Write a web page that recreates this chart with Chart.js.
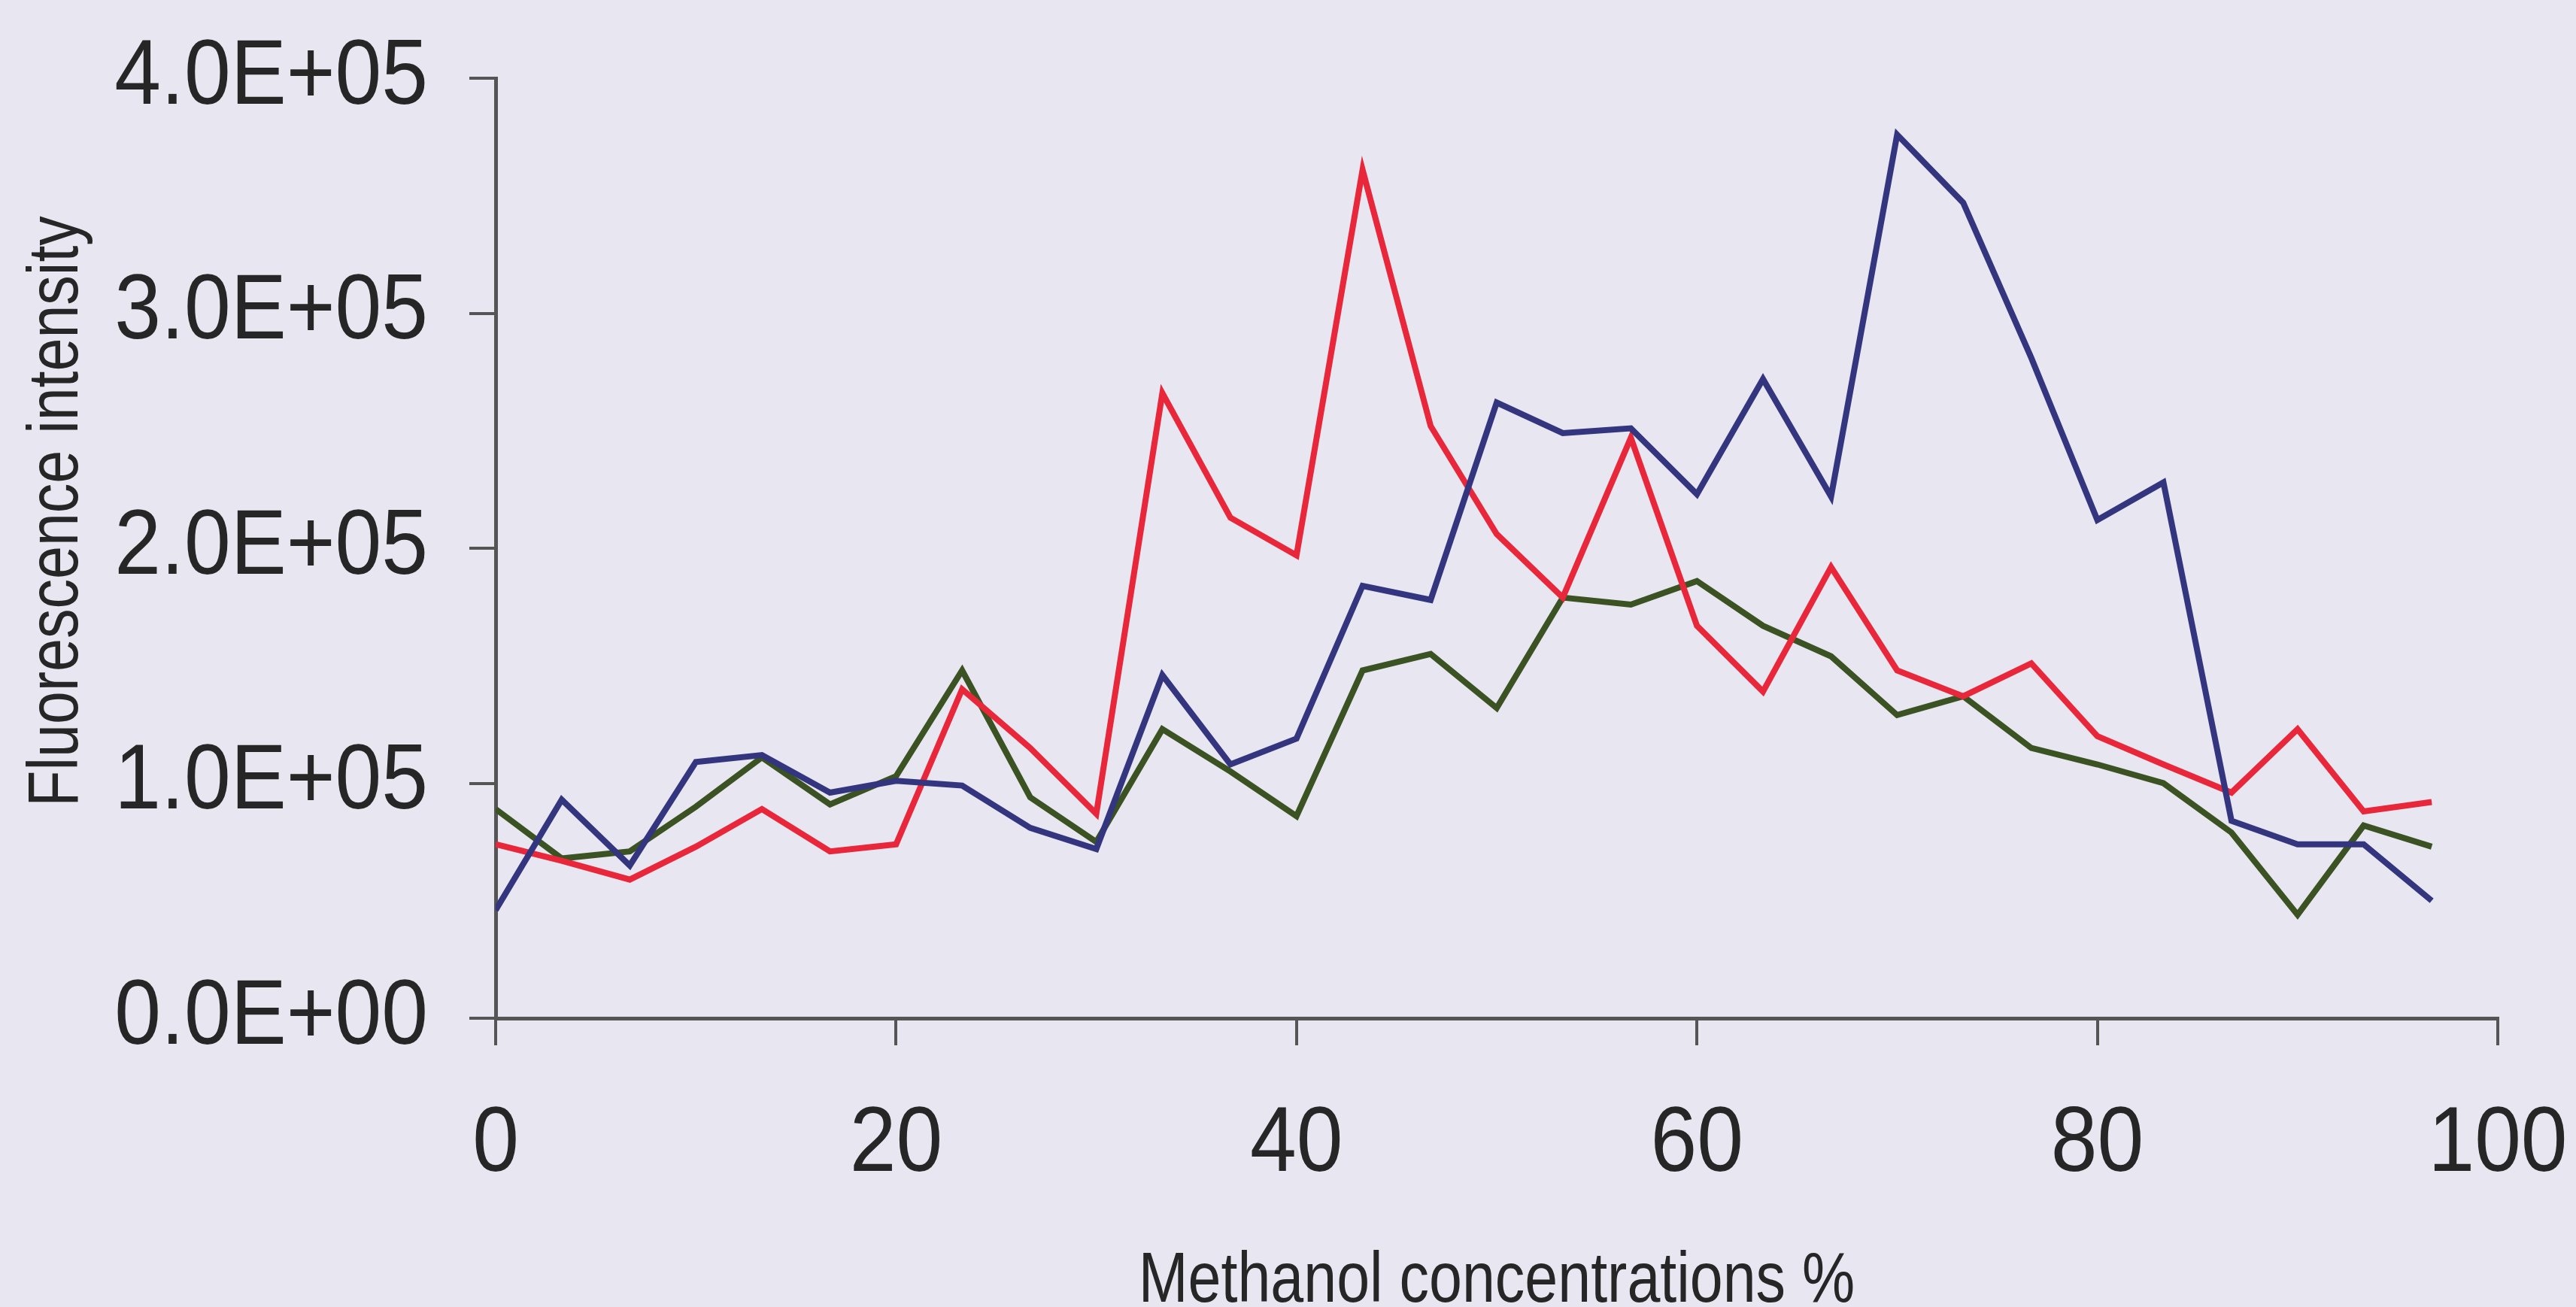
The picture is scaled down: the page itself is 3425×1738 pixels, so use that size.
<!DOCTYPE html>
<html>
<head>
<meta charset="utf-8">
<script src="https://cdn.jsdelivr.net/npm/chart.js"></script>
<style>
  html, body { margin: 0; padding: 0; background: #e8e6f1; }
  canvas { display: block; }
</style>
</head>
<body>
<canvas id="chart" width="3425" height="1738"></canvas>
<script>
// methanol concentration (%) of each fraction
const concentrations = [0, 3.3, 6.7, 10, 13.3, 16.7, 20, 23.3, 26.7, 30, 33.3, 36.7, 40, 43.3, 46.7,
	50, 53.3, 56.7, 60, 63.3, 66.7, 70, 73.3, 76.7, 80, 83.3, 86.7, 90, 93.3, 96.7];

// fluorescence intensity of the three runs
const blueRun = [46000, 93000, 65000, 109000, 112000, 96000, 101000, 99000, 81000, 72000,
	146000, 108000, 119000, 184000, 178000, 262000, 249000, 251000, 223000, 272000,
	222000, 376000, 347000, 281000, 212000, 228000, 84000, 74000, 74000, 50000];
const redRun = [74000, 67000, 59000, 73000, 89000, 71000, 74000, 140000, 115000, 87000,
	266000, 213000, 197000, 361000, 252000, 206000, 179000, 247000, 167000, 139000,
	192000, 148000, 137000, 151000, 120000, 108000, 96000, 123000, 88000, 92000];
const greenRun = [89000, 68000, 71000, 90000, 111000, 91000, 103000, 148000, 94000, 75000,
	123000, 105000, 86000, 148000, 155000, 132000, 179000, 176000, 186000, 167000,
	154000, 129000, 137000, 115000, 108000, 100000, 79000, 44000, 82000, 73000];

const yTicks = [0, 100000, 200000, 300000, 400000];
const xTicks = [0, 20, 40, 60, 80, 100];

const fontFamily = "'Liberation Sans', Arial, sans-serif";
const textColor = '#262626';
const axisColor = '#555555';

// 4.0E+05 style labels
function sci(v) {
	if (v === 0) return '0.0E+00';
	const e = Math.floor(Math.log10(v));
	const m = v / Math.pow(10, e);
	return m.toFixed(1) + 'E+' + String(e).padStart(2, '0');
}

function toPoints(values) {
	return values.map((v, i) => ({ x: concentrations[i], y: v }));
}

// the scan has tall, narrow lettering: squeeze text horizontally
// (tick numbers a little, the axis titles more)
const condensePlugin = {
	id: 'condense',
	beforeInit(chart) {
		const ctx = chart.ctx;
		const fill = ctx.fillText.bind(ctx);
		ctx.fillText = function (text, x, y, maxWidth) {
			const size = parseFloat((ctx.font.match(/([\d.]+)px/) || [0, 100])[1]);
			const squeeze = size > 110 ? 0.91 : 0.84;
			ctx.save();
			ctx.translate(x, y);
			ctx.scale(squeeze, 1);
			if (maxWidth === undefined) fill(text, 0, 0);
			else fill(text, 0, 0, maxWidth / squeeze);
			ctx.restore();
		};
	}
};

// y axis title, drawn a bit above the plot's middle like the original
const yTitlePlugin = {
	id: 'yTitle',
	afterDraw(chart) {
		const ctx = chart.ctx;
		ctx.save();
		ctx.translate(77, 680);
		ctx.rotate(-Math.PI / 2);
		ctx.font = '94px ' + fontFamily;
		ctx.fillStyle = textColor;
		ctx.textAlign = 'center';
		ctx.textBaseline = 'middle';
		ctx.fillText('Fluorescence intensity', 0, 0);
		ctx.restore();
	}
};

const chartCanvas = document.querySelector('#chart');

new Chart(chartCanvas, {
	type: 'line',
	data: {
		datasets: [
			{ label: 'Run 1', data: toPoints(blueRun), borderColor: '#34357f', borderWidth: 8 },
			{ label: 'Run 2', data: toPoints(redRun), borderColor: '#e8283a', borderWidth: 8 },
			{ label: 'Run 3', data: toPoints(greenRun), borderColor: '#3b5222', borderWidth: 8 }
		]
	},
	options: {
		responsive: false,
		animation: false,
		devicePixelRatio: 1,
		elements: {
			point: { radius: 0 },
			line: { tension: 0, borderJoinStyle: 'miter' }
		},
		layout: {
			padding: { top: 104, right: 104, left: 0, bottom: 0 }
		},
		plugins: {
			legend: { display: false },
			tooltip: { enabled: false }
		},
		scales: {
			x: {
				type: 'linear',
				min: 0,
				max: 100,
				afterBuildTicks: scale => { scale.ticks = xTicks.map(v => ({ value: v })); },
				afterFit: scale => {
					scale.height = 384;
					scale.paddingLeft = 0;
					scale.paddingRight = 0;
				},
				ticks: {
					padding: 60,
					color: textColor,
					font: { family: fontFamily, size: 122 }
				},
				grid: {
					drawOnChartArea: false,
					tickLength: 36,
					color: axisColor,
					lineWidth: 4
				},
				border: { color: axisColor, width: 5 },
				title: {
					display: true,
					text: 'Methanol concentrations %',
					color: textColor,
					font: { family: fontFamily, size: 94, lineHeight: 0.7 },
					padding: { top: 0, bottom: 0 }
				}
			},
			y: {
				min: 0,
				max: 400000,
				afterBuildTicks: scale => { scale.ticks = yTicks.map(v => ({ value: v })); },
				afterFit: scale => {
					scale.width = 659;
					scale.paddingTop = 0;
					scale.paddingBottom = 0;
				},
				ticks: {
					padding: 55,
					color: textColor,
					font: { family: fontFamily, size: 122 },
					callback: v => sci(v)
				},
				grid: {
					drawOnChartArea: false,
					tickLength: 35,
					color: axisColor,
					lineWidth: 4
				},
				border: { color: axisColor, width: 5 }
			}
		}
	},
	plugins: [condensePlugin, yTitlePlugin]
});
</script>
</body>
</html>
